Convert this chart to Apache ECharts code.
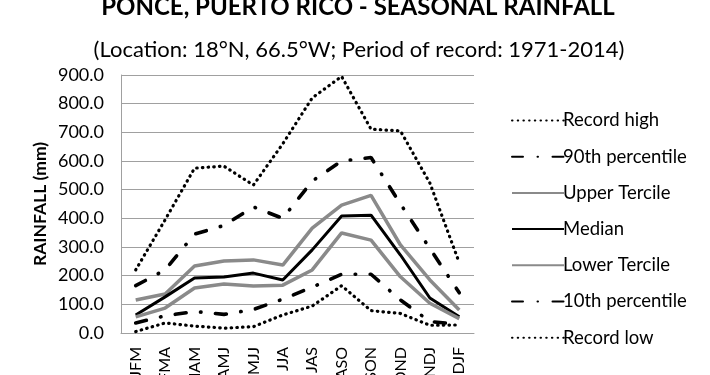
<!DOCTYPE html>
<html><head><meta charset="utf-8">
<script src="https://cdn.jsdelivr.net/npm/echarts@6/dist/echarts.min.js"></script>
<style>html,body{margin:0;padding:0;background:#fff}#c{width:710px;height:375px}</style>
</head><body><div id="c"></div>
<script>
var categories = ['JFM','FMA','MAM','AMJ','MJJ','JJA','JAS','ASO','SON','OND','NDJ','DJF'];
var recordHigh = [220, 395, 575, 582, 516, 660, 820, 895, 711, 705, 523, 245];
var p90 = [165, 220, 345, 375, 440, 400, 530, 600, 612, 450, 295, 140];
var upperTercile = [115, 136, 234, 251, 255, 237, 366, 446, 480, 307, 185, 80];
var median = [63, 126, 192, 195, 209, 185, 290, 408, 411, 272, 122, 57];
var lowerTercile = [56, 87, 157, 171, 164, 167, 220, 349, 324, 196, 104, 50];
var p10 = [35, 60, 75, 65, 82, 118, 160, 205, 205, 115, 40, 30];
var recordLow = [5, 35, 24, 17, 22, 63, 94, 165, 78, 68, 27, 28];
var yTicks = [0, 100, 200, 300, 400, 500, 600, 700, 800, 900];

var FONT = 'Lato, "Open Sans", sans-serif';
var dotted = {color:'#000', width:3.2, type:[0.5,5.2], cap:'round'};
var dashdot = {color:'#000', width:3.6, type:[11,14.5,0.5,14.5], cap:'round'};
var gray = '#8a8a8a';
function s(name, data, ls){
  return {name:name, type:'line', data:data, symbol:'none', smooth:false,
    lineStyle:ls, itemStyle:{color:ls.color}, z: 2};
}
var chart = echarts.init(document.getElementById('c'), null, {renderer:'canvas'});
chart.setOption({
  animation:false,
  backgroundColor:'#fff',
  title:[
    {text:'PONCE, PUERTO RICO - SEASONAL RAINFALL', left:353, textAlign:'center', top:-10,
     textStyle:{fontFamily:FONT, fontSize:24, fontWeight:'bold', color:'#000'}},
    {text:'(Location: 18°N, 66.5°W; Period of record: 1971-2014)', left:354, textAlign:'center', top:34,
     textStyle:{fontFamily:FONT, fontSize:22, fontWeight:'normal', color:'#000'}}
  ],
  legend:{
    orient:'vertical', left:506, top:106, itemWidth:52, itemHeight:14, itemGap:17.2,
    itemStyle:{opacity:0},
    textStyle:{fontFamily:FONT, fontSize:18.5, color:'#000', padding:[0,0,0,-6]},
    data:['Record high','90th percentile','Upper Tercile','Median','Lower Tercile','10th percentile','Record low']
  },
  grid:{left:121, right:236, top:75, bottom:42, containLabel:false, outerBoundsMode:'none'},
  xAxis:{
    type:'category', data:categories, boundaryGap:true,
    axisLine:{lineStyle:{color:'#a0a0a0', width:1}},
    axisTick:{show:false},
    axisLabel:{rotate:90, fontFamily:FONT, fontSize:16, color:'#000', margin:14, interval:0}
  },
  yAxis:{
    type:'value', min:0, max:900, interval:100,
    name:'RAINFALL (mm)', nameLocation:'middle', nameGap:72, nameRotate:90,
    nameTextStyle:{fontFamily:FONT, fontSize:17.5, fontWeight:'bold', color:'#000'},
    axisLine:{show:true, lineStyle:{color:'#a0a0a0', width:1}},
    axisTick:{show:false},
    splitLine:{lineStyle:{color:'#a0a0a0', width:1}},
    axisLabel:{fontFamily:FONT, fontSize:18, color:'#000', margin:17,
      formatter:function(v){return v.toFixed(1);}}
  },
  series:[
    s('Record high', recordHigh, dotted),
    s('90th percentile', p90, dashdot),
    s('Upper Tercile', upperTercile, {color:gray, width:3.5, type:'solid'}),
    s('Median', median, {color:'#000', width:3, type:'solid'}),
    s('Lower Tercile', lowerTercile, {color:gray, width:3.5, type:'solid'}),
    s('10th percentile', p10, dashdot),
    s('Record low', recordLow, dotted)
  ]
});
</script></body></html>
